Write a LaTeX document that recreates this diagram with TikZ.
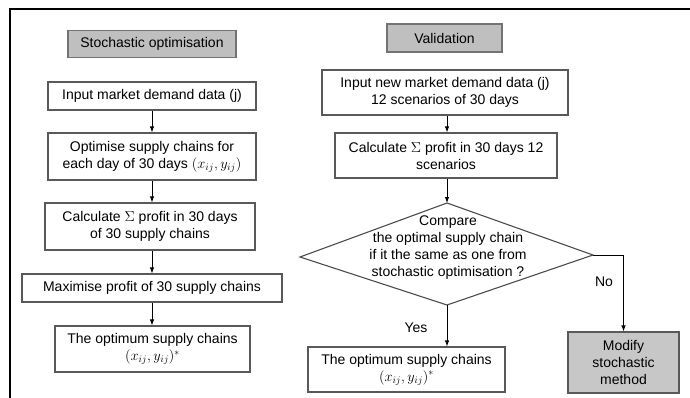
\documentclass[tikz,border=0pt]{standalone}
\usepackage{fontspec}
\setmainfont{Liberation Sans}
\usetikzlibrary{arrows.meta}
\begin{document}
\begin{tikzpicture}[x=1pt,y=-1pt,
  txt/.style={font=\fontsize{14}{17}\selectfont},
  box/.style={txt, draw=black!65, line width=1.1pt, fill=white, align=center, inner sep=2pt},
  titlebox/.style={box, fill=black!25, draw=black!55, line width=1.8pt},
  graybox/.style={box, fill=black!22},
  arr/.style={-{Latex[length=6pt,width=4.5pt]}, line width=0.9pt},
  lbl/.style={txt, inner sep=0pt}]
\useasboundingbox (0,0) rectangle (690,398);
% frame
\draw[line width=2pt] (9.5,398) -- (9.5,9.5) -- (690,9.5);

% left column
\node[titlebox, minimum width=168pt, minimum height=27pt] (so) at (152,44) {Stochastic optimisation};
\node[box, minimum width=208pt, minimum height=28pt] (in1) at (152,96) {Input market demand data (j)};
\node[box, minimum width=208pt, minimum height=47pt] (opt) at (152,156.5) {Optimise supply chains for\\each day of 30 days $(x_{ij}, y_{ij})$};
\node[box, minimum width=210pt, minimum height=47pt] (calc1) at (150,226.5) {Calculate $\Sigma$ profit in 30 days\\of 30 supply chains};
\node[box, minimum width=260pt, minimum height=28pt] (max) at (152,288) {Maximise profit of 30 supply chains};
\node[box, minimum width=195pt, minimum height=46pt] (best1) at (152.5,349) {The optimum supply chains\\$(x_{ij}, y_{ij})^*$};

\coordinate (lx) at (152,0);
\draw[arr] (in1.south -| lx) -- (opt.north -| lx);
\draw[arr] (opt.south -| lx) -- (calc1.north -| lx);
\draw[arr] (calc1.south -| lx) -- (max.north -| lx);
\draw[arr] (max.south -| lx) -- (best1.north -| lx);

% right column
\node[titlebox, minimum width=115pt, minimum height=28pt] (val) at (444.5,38) {Validation};
\node[box, minimum width=246pt, minimum height=45pt] (in2) at (445,92.5) {Input new market demand data (j)\\12 scenarios of 30 days};
\node[box, minimum width=222pt, minimum height=45pt] (calc2) at (446,155.5) {Calculate $\Sigma$ profit in 30 days 12\\scenarios};

\coordinate (dt) at (447,203);
\coordinate (dr) at (593,255);
\coordinate (db) at (447,305);
\coordinate (dl) at (300,257);
\draw[draw=black!70, line width=1.1pt] (dt) -- (dr) -- (db) -- (dl) -- cycle;
\node[txt, align=center, inner sep=0pt] (q) at (448,248) {Compare\\the optimal supply chain\\if it the same as one from\\stochastic optimisation ?};

\node[box, minimum width=197pt, minimum height=45pt] (best2) at (406.5,369.5) {The optimum supply chains\\$(x_{ij}, y_{ij})^*$};
\node[graybox, minimum width=111pt, minimum height=61pt] (mod) at (623.5,362.5) {Modify\\stochastic\\method};

\draw[arr] (in2.south -| dt) -- (calc2.north -| dt);
\draw[arr] (calc2.south -| dt) -- (dt);
\draw[arr] (db) -- (db |- best2.north);
\draw[arr] (dr) -| (mod.north);

\node[lbl] (yes) at (416,328) {Yes};
\node[lbl] (no) at (604,282) {No};
\end{tikzpicture}
\end{document}
